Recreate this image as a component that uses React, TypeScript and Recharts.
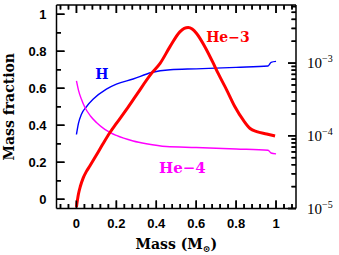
import React from "react";
import { ComposedChart, Line, XAxis, YAxis, ReferenceDot, ReferenceLine } from "recharts";

// hydrogen mass fraction (left axis)
const hMass = [0, 0.01, 0.025, 0.05, 0.083, 0.15, 0.2, 0.284, 0.376, 0.47, 0.6, 0.8, 0.96, 0.975, 1.0];
const hFrac = [0.35, 0.41, 0.46, 0.5, 0.54, 0.595, 0.622, 0.65, 0.685, 0.7, 0.705, 0.713, 0.72, 0.74, 0.745];

// helium-4 mass fraction (left axis)
const he4Mass = [0, 0.01, 0.025, 0.042, 0.07, 0.1, 0.142, 0.2, 0.284, 0.35, 0.45, 0.6, 0.8, 0.96, 0.975, 1.0];
const he4Frac = [0.64, 0.59, 0.54, 0.497, 0.45, 0.415, 0.378, 0.345, 0.315, 0.3, 0.285, 0.28, 0.272, 0.265, 0.25, 0.245];

// helium-3 mass fraction (right log axis)
const he3Mass = [0, 0.01, 0.02, 0.033, 0.05, 0.067, 0.1, 0.133, 0.167, 0.2, 0.25, 0.3, 0.376, 0.419, 0.468, 0.518, 0.54, 0.56, 0.58, 0.602, 0.644, 0.686, 0.71, 0.753, 0.794, 0.836, 0.87, 0.903, 0.953, 0.995];
const he3Frac = [1.05e-5, 1.58e-5, 2.04e-5, 2.6e-5, 3.24e-5, 3.85e-5, 5.43e-5, 7.76e-5, 1.1e-4, 1.48e-4, 2.29e-4, 3.63e-4, 7.21e-4, 9.91e-4, 1.67e-3, 2.69e-3, 3.0e-3, 3.09e-3, 2.95e-3, 2.56e-3, 1.67e-3, 9.91e-4, 7.21e-4, 4.26e-4, 2.51e-4, 1.64e-4, 1.26e-4, 1.14e-4, 1.06e-4, 9.93e-5];

// axis ticks
const xTicks = [-0.08, -0.04, 0, 0.04, 0.08, 0.12, 0.16, 0.2, 0.24, 0.28, 0.32, 0.36, 0.4, 0.44, 0.48, 0.52, 0.56, 0.6, 0.64, 0.68, 0.72, 0.76, 0.8, 0.84, 0.88, 0.92, 0.96, 1, 1.04, 1.08];
const fracTicks = [0, 0.1, 0.2, 0.3, 0.4, 0.5, 0.6, 0.7, 0.8, 0.9, 1];
const logTicks = [1e-5, 2e-5, 3e-5, 4e-5, 5e-5, 6e-5, 7e-5, 8e-5, 9e-5, 1e-4, 2e-4, 3e-4, 4e-4, 5e-4, 6e-4, 7e-4, 8e-4, 9e-4, 1e-3, 2e-3, 3e-3, 4e-3, 5e-3, 6e-3];

const X_DOMAIN = [-0.1, 1.1];
const Y_DOMAIN = [-0.05, 1.05];
const LOG_DOMAIN = [1e-5, 6.3e-3];

const zip = (xs: number[], ys: number[]) => xs.map((m, i) => ({ m, v: ys[i] }));
const hData = zip(hMass, hFrac);
const he4Data = zip(he4Mass, he4Frac);
const he3Data = zip(he3Mass, he3Frac);

const tickFont = { fontFamily: "'Liberation Sans', Arial, sans-serif", fontWeight: 700, fontSize: 13 };
const titleFont = { fontFamily: "'DejaVu Serif', serif", fontWeight: 700, fontSize: 14 };

const isFifth = (v: number) => Math.abs(v * 5 - Math.round(v * 5)) < 1e-6;
const isDecade = (v: number) => Math.abs(Math.log10(v) - Math.round(Math.log10(v))) < 1e-6;
const fmt = (v: number) => (Math.abs(v) < 1e-9 ? "0" : String(Math.round(v * 10) / 10));

// inward tick lengths, px and data units (plot is 239.5 x 203.5 px)
const MAJOR = 8;
const MINOR = 4.5;
const xPerPx = (X_DOMAIN[1] - X_DOMAIN[0]) / 239.5;
const yPerPx = (Y_DOMAIN[1] - Y_DOMAIN[0]) / 203.5;

const BottomTick = (p: any) => {
  const v = p.payload.value;
  const major = isFifth(v);
  return (
    <g>
      <line x1={p.x} x2={p.x} y1={p.y} y2={p.y - (major ? MAJOR : MINOR)} stroke="#000" strokeWidth={1.5} />
      {major ? (
        <text x={p.x} y={p.y + 19} textAnchor="middle" {...tickFont} fill="#000">
          {fmt(v)}
        </text>
      ) : null}
    </g>
  );
};

const TopTick = (p: any) => {
  const major = isFifth(p.payload.value);
  return (
    <g>
      <line x1={p.x} x2={p.x} y1={p.y} y2={p.y + (major ? MAJOR : MINOR)} stroke="#000" strokeWidth={1.5} />
    </g>
  );
};

const LeftTick = (p: any) => {
  const v = p.payload.value;
  const major = isFifth(v);
  return (
    <g>
      <line x1={p.x} x2={p.x + (major ? MAJOR : MINOR)} y1={p.y} y2={p.y} stroke="#000" strokeWidth={1.5} />
      {major ? (
        <text x={p.x - 10} y={p.y + 4.5} textAnchor="end" {...tickFont} fill="#000">
          {fmt(v)}
        </text>
      ) : null}
    </g>
  );
};

const RightTick = (p: any) => {
  const v = p.payload.value;
  const major = isDecade(v);
  return (
    <g>
      <line x1={p.x} x2={p.x - (major ? MAJOR : MINOR)} y1={p.y} y2={p.y} stroke="#000" strokeWidth={1.5} />
      {major ? (
        <text x={p.x + 11} y={p.y + 5} fontFamily="'Liberation Serif', serif" fontSize={15} fill="#000">
          10
          <tspan dy={-6} fontSize={10}>{"\u2212" + Math.abs(Math.round(Math.log10(v)))}</tspan>
        </text>
      ) : null}
    </g>
  );
};

const YTitle = (p: any) => {
  const vb = p.viewBox || { x: 0.5, y: 5, width: 56, height: 203.5 };
  const cx = vb.x + 8.5;
  const cy = vb.y + vb.height / 2;
  return (
    <text x={cx} y={cy} transform={`rotate(-90 ${cx} ${cy})`} textAnchor="middle" dominantBaseline="central" {...titleFont} fill="#000">
      Mass fraction
    </text>
  );
};

const XTitle = (p: any) => {
  const vb = p.viewBox || { x: 56.5, y: 208.5, width: 239.5, height: 46.5 };
  return (
    <text x={vb.x + vb.width / 2} y={vb.y + 40} textAnchor="middle" {...titleFont} fill="#000">
      Mass (M<tspan dy={3} fontSize={9}>{"\u2299"}</tspan>
      <tspan dy={-3}>)</tspan>
    </text>
  );
};

const axisLine = { stroke: "#000", strokeWidth: 1.5 };
const stub = { stroke: "#000", strokeWidth: 1.5, ifOverflow: "visible" as const };

export default function App() {
  // the same inward stubs again through the chart scales
  const frameTicks: React.ReactNode[] = [];
  xTicks.forEach((v) => {
    const len = (isFifth(v) ? MAJOR : MINOR) * yPerPx;
    frameTicks.push(
      <ReferenceLine key={"b" + v} yAxisId="frac" segment={[{ x: v, y: Y_DOMAIN[0] }, { x: v, y: Y_DOMAIN[0] + len }]} {...stub} />,
      <ReferenceLine key={"t" + v} yAxisId="frac" segment={[{ x: v, y: Y_DOMAIN[1] }, { x: v, y: Y_DOMAIN[1] - len }]} {...stub} />
    );
  });
  fracTicks.forEach((v) => {
    const len = (isFifth(v) ? MAJOR : MINOR) * xPerPx;
    frameTicks.push(
      <ReferenceLine key={"l" + v} yAxisId="frac" segment={[{ x: X_DOMAIN[0], y: v }, { x: X_DOMAIN[0] + len, y: v }]} {...stub} />
    );
  });
  logTicks.forEach((v) => {
    const len = (isDecade(v) ? MAJOR : MINOR) * xPerPx;
    frameTicks.push(
      <ReferenceLine key={"r" + v} yAxisId="he3" segment={[{ x: X_DOMAIN[1] - len, y: v }, { x: X_DOMAIN[1], y: v }]} {...stub} />
    );
  });

  return (
    <div style={{ position: "absolute", left: 0, top: 0, width: 339, height: 255, background: "#fff" }}>
      <ComposedChart width={339} height={255} margin={{ top: 0, right: 0, bottom: 0, left: 0 }}>
        <XAxis dataKey="m" type="number" domain={X_DOMAIN} ticks={xTicks} interval={0} height={46.5}
          tickSize={0} tickMargin={0} tickLine={false} axisLine={axisLine} tick={BottomTick} allowDataOverflow label={<XTitle />} />
        <XAxis xAxisId="top" orientation="top" dataKey="m" type="number" domain={X_DOMAIN} ticks={xTicks} interval={0} height={5}
          tickSize={0} tickMargin={0} tickLine={false} axisLine={axisLine} tick={TopTick} allowDataOverflow />
        <YAxis yAxisId="frac" type="number" domain={Y_DOMAIN} ticks={fracTicks} interval={0} width={56.5}
          tickSize={0} tickMargin={0} tickLine={false} axisLine={axisLine} tick={LeftTick} allowDataOverflow label={<YTitle />} />
        <YAxis yAxisId="he3" orientation="right" scale="log" type="number" domain={LOG_DOMAIN} ticks={logTicks} interval={0} width={43}
          tickSize={0} tickMargin={0} tickLine={false} axisLine={axisLine} tick={RightTick} allowDataOverflow />
        {frameTicks}
        <Line yAxisId="frac" data={hData} dataKey="v" type="monotone" stroke="#0000ff" strokeWidth={1.4} dot={false} isAnimationActive={false} />
        <Line yAxisId="frac" data={he4Data} dataKey="v" type="monotone" stroke="#ff00ff" strokeWidth={1.4} dot={false} isAnimationActive={false} />
        <Line yAxisId="he3" data={he3Data} dataKey="v" type="monotone" stroke="#ff0000" strokeWidth={3} dot={false} isAnimationActive={false} />
        <ReferenceDot yAxisId="frac" x={0.127} y={0.677} r={0} fill="none" stroke="none"
          label={{ value: "H", position: "center", fill: "#0000ff", ...titleFont }} />
        <ReferenceDot yAxisId="frac" x={0.759} y={0.877} r={0} fill="none" stroke="none"
          label={{ value: "He\u22123", position: "center", fill: "#ff0000", ...titleFont }} />
        <ReferenceDot yAxisId="frac" x={0.531} y={0.169} r={0} fill="none" stroke="none"
          label={{ value: "He\u22124", position: "center", fill: "#ff00ff", ...titleFont, fontSize: 15 }} />
      </ComposedChart>
    </div>
  );
}
